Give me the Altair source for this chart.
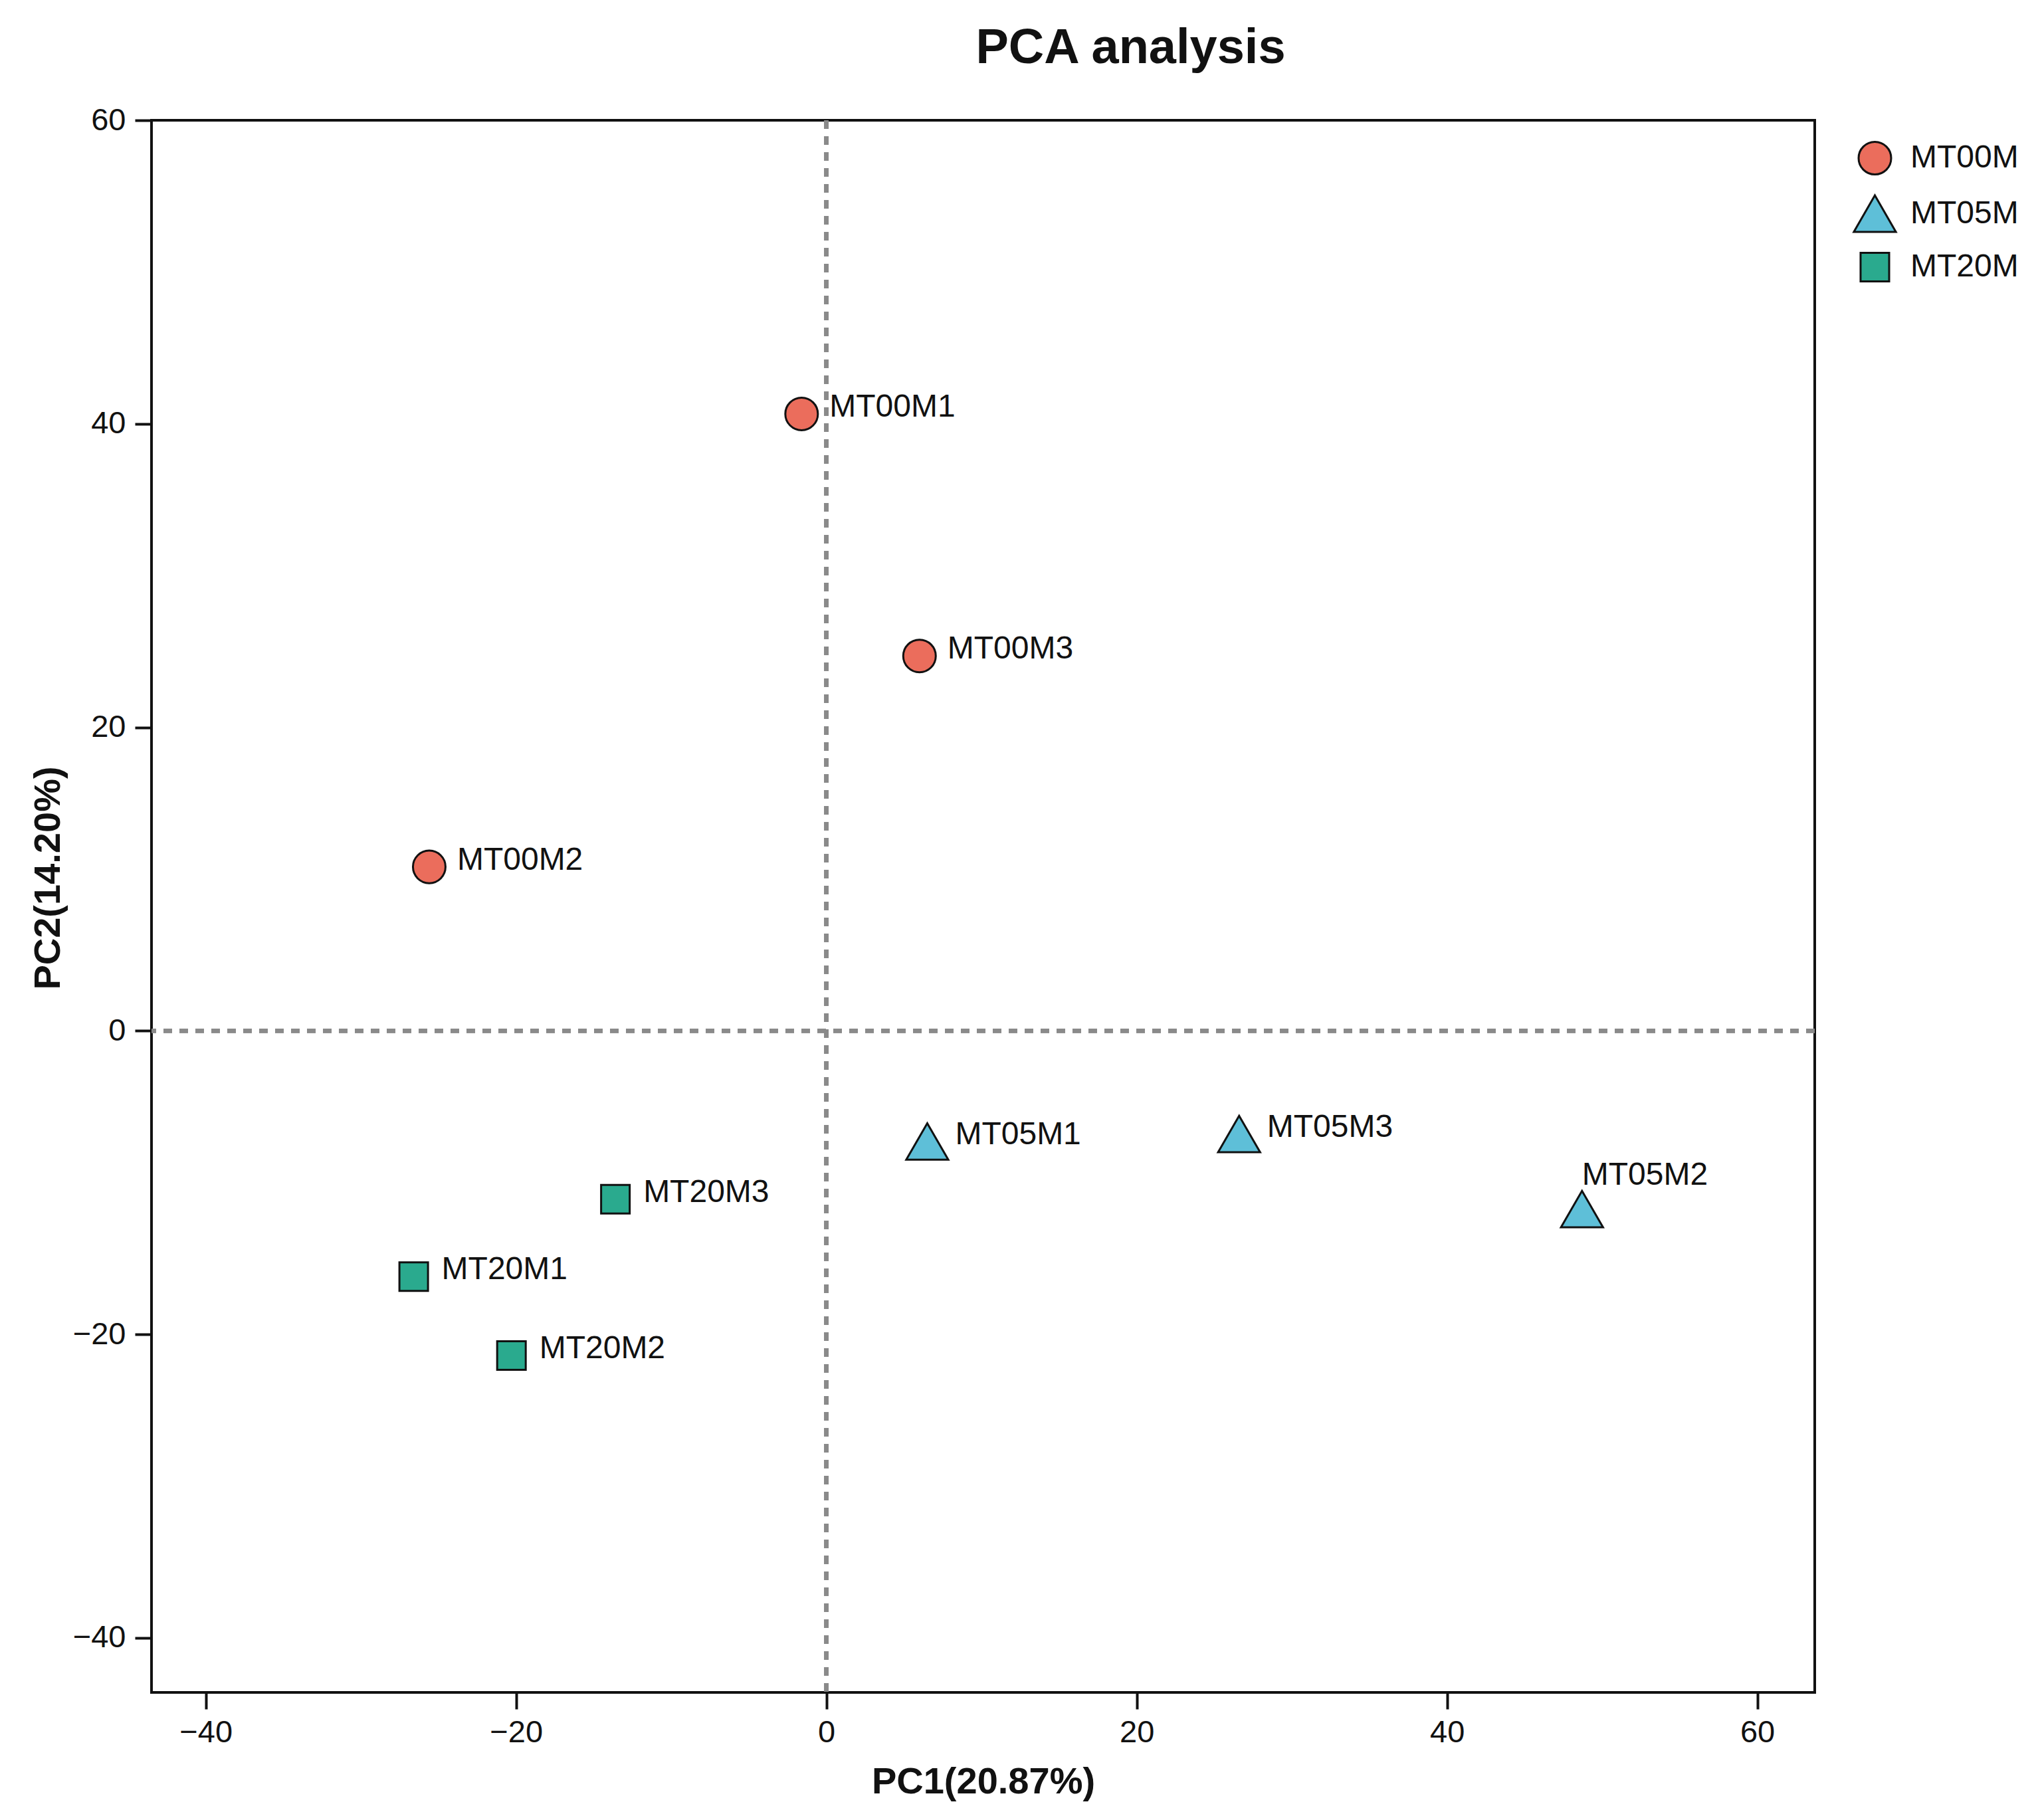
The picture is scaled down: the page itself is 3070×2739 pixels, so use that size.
import altair as alt
import pandas as pd

samples = ["MT00M1", "MT00M2", "MT00M3", "MT05M1", "MT05M2", "MT05M3", "MT20M1", "MT20M2", "MT20M3"]
groups = ["MT00M", "MT00M", "MT00M", "MT05M", "MT05M", "MT05M", "MT20M", "MT20M", "MT20M"]
pc1 = [-1.6, -25.6, 6.0, 6.5, 48.7, 26.6, -26.6, -20.3, -13.6]
pc2 = [40.65, 10.8, 24.7, -7.3, -11.75, -6.8, -16.2, -21.4, -11.1]

group_names = ["MT00M", "MT05M", "MT20M"]
group_colors = ["#EB6D5C", "#5EBFD8", "#2AAA8E"]
group_shapes = ["circle", "triangle-up", "square"]
group_sizes = [2400, 4000, 1850]
tick_vals = [-40, -20, 0, 20, 40, 60]

df = pd.DataFrame({"sample": samples, "group": groups, "PC1": pc1, "PC2": pc2})

FONT = "Liberation Sans"

x_enc = alt.X("PC1:Q", title="PC1(20.87%)",
              scale=alt.Scale(domain=[-43.5, 63.7], nice=False, zero=False),
              axis=alt.Axis(values=tick_vals, grid=False))
y_enc = alt.Y("PC2:Q", title="PC2(14.20%)",
              scale=alt.Scale(domain=[-43.6, 60], nice=False, zero=False),
              axis=alt.Axis(values=tick_vals, grid=False, titleY=1140, titlePadding=8))

base = alt.Chart(df)

vline = base.mark_rule(color="#8a8a8a", strokeWidth=6, strokeDash=[13, 11]).encode(
    x=alt.datum(0))
hline = base.mark_rule(color="#8a8a8a", strokeWidth=6, strokeDash=[13, 11]).encode(
    y=alt.datum(0))

legend = alt.Legend(title=None, orient="none", legendX=2560, legendY=31,
                    labelFont=FONT, labelFontSize=48, labelColor="#111111",
                    labelLimit=0, labelOffset=20, rowPadding=19, padding=0,
                    symbolStrokeWidth=3, symbolStrokeColor="#111111")

points = base.mark_point(filled=True, opacity=1, stroke="#111111", strokeWidth=3).encode(
    x=x_enc,
    y=y_enc,
    color=alt.Color("group:N", scale=alt.Scale(domain=group_names, range=group_colors), legend=legend),
    shape=alt.Shape("group:N", scale=alt.Scale(domain=group_names, range=group_shapes), legend=legend),
    size=alt.Size("group:N", scale=alt.Scale(type="ordinal", domain=group_names, range=group_sizes), legend=legend),
)

labels = base.mark_text(align="left", baseline="middle", dx=42, dy=-10,
                        font=FONT, fontSize=48, color="#111111").encode(
    x="PC1:Q", y="PC2:Q", text="sample:N"
).transform_filter(alt.datum.sample != "MT05M2")

labels2 = base.mark_text(align="left", baseline="middle", dx=0, dy=-51,
                         font=FONT, fontSize=48, color="#111111").encode(
    x="PC1:Q", y="PC2:Q", text="sample:N"
).transform_filter(alt.datum.sample == "MT05M2")

chart = alt.layer(vline, hline, points, labels, labels2).properties(
    width=2503,
    height=2366,
    autosize=alt.AutoSizeParams(type="none"),
    padding={"left": 220, "top": 173, "right": 331, "bottom": 184},
    title=alt.TitleParams("PCA analysis", font=FONT, fontSize=74, fontWeight="bold",
                          color="#111111", anchor="middle", dx=222, offset=46),
).configure_view(
    stroke="#111111", strokeWidth=4
).configure_axis(
    labelFont=FONT, labelFontSize=47, labelColor="#111111",
    titleFont=FONT, titleFontSize=56, titleFontWeight="bold", titleColor="#111111",
    domain=False, tickColor="#111111", tickWidth=4, tickSize=25,
    labelPadding=12, titlePadding=24
).configure_axisY(labelPadding=14)

chart.save("out.html", embed_options={"renderer": "svg", "actions": False})
